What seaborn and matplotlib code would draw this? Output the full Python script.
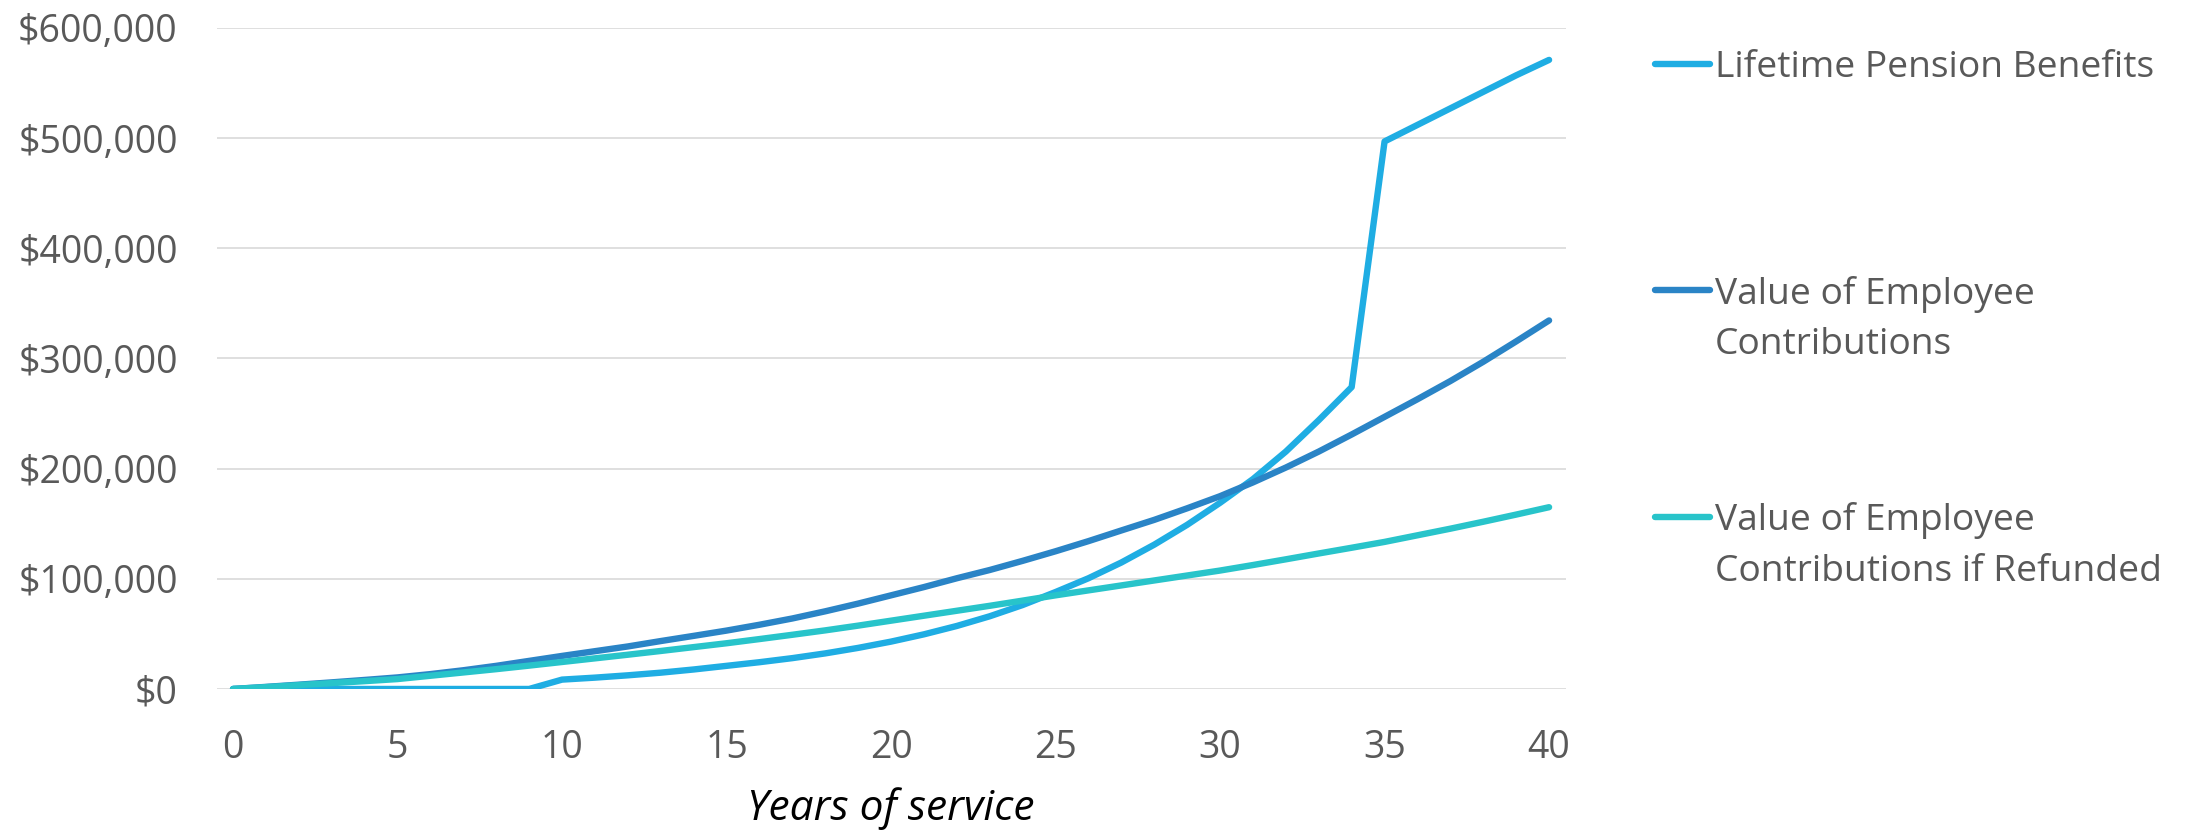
import numpy as np
import pandas as pd
import matplotlib
matplotlib.use("Agg")
import matplotlib.pyplot as plt
from matplotlib.lines import Line2D
from matplotlib.legend_handler import HandlerLine2D
from matplotlib.ticker import FuncFormatter, MultipleLocator
import seaborn as sns

# Years of service
years = list(range(0, 41))

# Lifetime pension benefits (USD); vesting after 10 years, jump at 35
pension_benefits = [
    0, 0, 0, 0, 0, 0, 0, 0, 0, 0,
    8500, 10300, 12400, 14800, 17700, 21000, 24300, 28000, 32300, 37300,
    43000, 49600, 57200, 66000, 76200, 88000, 100500, 114800, 131000, 149000,
    169000, 190500, 215500, 244000, 274000, 497000, 512000, 527000, 542000, 557000,
    571000,
]

# Value of employee contributions (USD)
contributions = [
    0, 1900, 3900, 6000, 8200, 10500, 13500, 17000, 21000, 25500,
    30000, 34300, 38600, 43500, 48200, 53000, 58300, 64000, 70500, 77500,
    85000, 92500, 100500, 108000, 116300, 125000, 134200, 143900, 153500, 164000,
    175000, 187500, 201000, 215500, 231000, 247000, 263000, 279500, 297000, 315500,
    334500,
]

# Value of employee contributions if refunded (USD)
refunded = [
    0, 1700, 3500, 5300, 7100, 9000, 12000, 15000, 18000, 21200,
    24500, 27800, 31100, 34500, 38000, 41500, 45300, 49200, 53200, 57500,
    62000, 66500, 71000, 75500, 80200, 85000, 89500, 94000, 98500, 103000,
    107500, 112500, 117700, 123000, 128200, 133500, 139500, 145500, 151800, 158300,
    165000,
]

series_names = [
    "Lifetime Pension Benefits",
    "Value of Employee Contributions",
    "Value of Employee Contributions if Refunded",
]
# Every label is two lines high so that the entries are evenly spaced
legend_labels = [
    "Lifetime Pension Benefits\n",
    "Value of Employee\nContributions",
    "Value of Employee\nContributions if Refunded",
]
colors = ["#1FADE3", "#2A84C6", "#28C4CA"]

df = pd.concat([
    pd.DataFrame({"year": years, "value": vals, "series": name})
    for name, vals in zip(series_names, [pension_benefits, contributions, refunded])
], ignore_index=True)

sns.set_theme(style="white")
plt.rcParams["font.family"] = ["Open Sans", "DejaVu Sans"]

fig = plt.figure(figsize=(21.92, 8.32), dpi=100)
ax = fig.add_axes([0.0988, 0.1719, 0.6154, 0.7945])

sns.lineplot(
    data=df, x="year", y="value", hue="series", hue_order=series_names,
    palette=colors, linewidth=4.6, legend=False, ax=ax,
    solid_capstyle="round", solid_joinstyle="round",
)

ax.set_xlim(-0.5, 40.5)
ax.set_ylim(0, 600000)
ax.xaxis.set_major_locator(MultipleLocator(5))
ax.yaxis.set_major_locator(MultipleLocator(100000))
ax.yaxis.set_major_formatter(FuncFormatter(lambda v, p: f"${v:,.0f}"))

ax.grid(axis="y", color="#D9D9D9", linewidth=1.2)
ax.grid(axis="x", visible=False)
ax.set_axisbelow(True)
for s in ax.spines.values():
    s.set_visible(False)

ax.tick_params(axis="both", length=0, labelsize=27, labelcolor="#595959")
ax.tick_params(axis="y", pad=28)
ax.tick_params(axis="x", pad=29)

ax.set_ylabel("")
ax.set_xlabel("Years of service", fontsize=30.5, style="italic", color="#000000", labelpad=14)


class FirstLineHandler(HandlerLine2D):
    """Places the legend line level with the first line of a two-line label."""

    def __init__(self, shift, **kw):
        super().__init__(**kw)
        self.shift = shift

    def create_artists(self, legend, orig_handle, xdescent, ydescent, width, height, fontsize, trans):
        artists = super().create_artists(legend, orig_handle, xdescent, ydescent,
                                         width, height, fontsize, trans)
        for a in artists:
            if isinstance(a, Line2D):
                a.set_ydata(np.asarray(a.get_ydata(), dtype=float) + self.shift)
        return artists


handles = ax.get_lines()[:3]
leg = ax.legend(
    handles, legend_labels,
    loc="upper left", bbox_to_anchor=(1657 / 2192 - 0.001, 1 - 50 / 832),
    bbox_transform=fig.transFigure,
    frameon=False, fontsize=26.7, labelcolor="#595959",
    handlelength=1.5, handletextpad=0.12, labelspacing=3.75, borderpad=0,
    borderaxespad=0,
    handler_map={h: FirstLineHandler(shift=21.5) for h in handles},
)
for t in leg.get_texts():
    t.set_linespacing(1.54)

fig.savefig("out.png", dpi=100, facecolor="white")
